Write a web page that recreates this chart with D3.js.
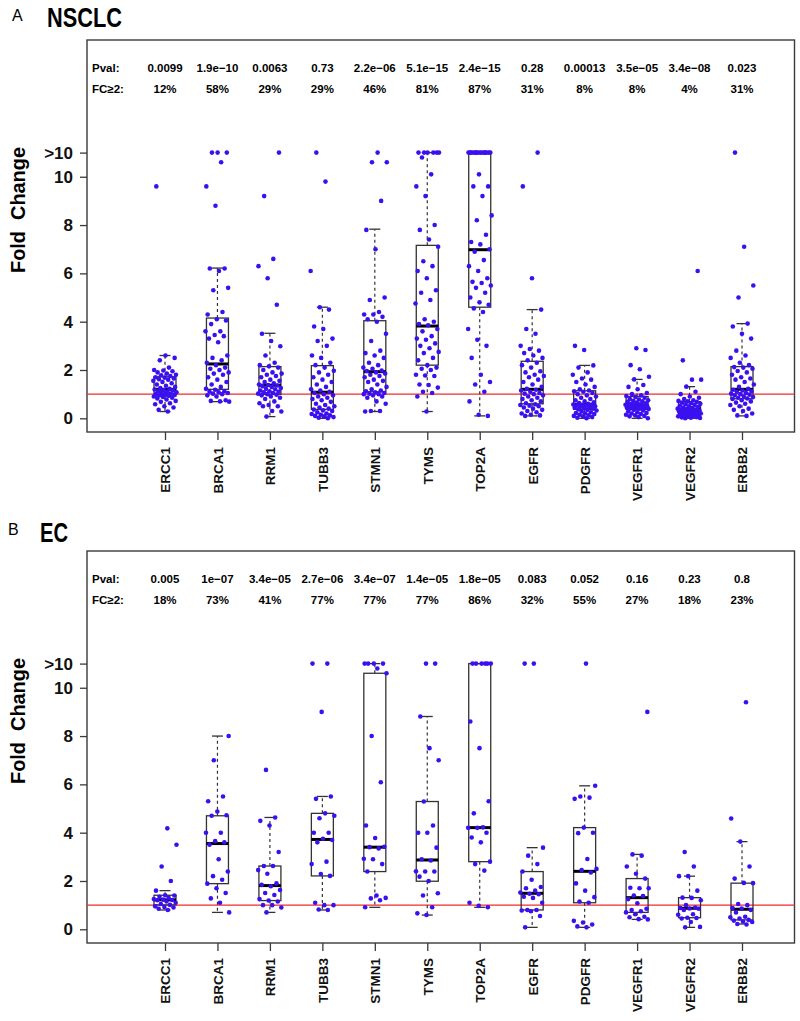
<!DOCTYPE html>
<html lang="en">
<head>
<meta charset="utf-8">
<title>Fold change by gene: NSCLC and EC</title>
<script src="https://d3js.org/d3.v7.min.js"></script>
<style>
  body { margin: 0; background: #fff; }
  text { font-family: "Liberation Sans", Arial, sans-serif; }
  .tick line { stroke: #3a3a3a; stroke-width: 1.3px; }
</style>
</head>
<body>
<svg width="800" height="1021"></svg>
<script>
// genes on the x axis (same order in both panels)
var genes = ["ERCC1", "BRCA1", "RRM1", "TUBB3", "STMN1", "TYMS", "TOP2A", "EGFR", "PDGFR", "VEGFR1", "VEGFR2", "ERBB2"];

// y ticks: 11 stands for the ">10" row
var yTicks = [0, 2, 4, 6, 8, 10, 11];
var yTickLabels = ["0", "2", "4", "6", "8", "10", ">10"];

// --- NSCLC ---
var nsclcPval = ["0.0099", "1.9e\u221210", "0.0063", "0.73", "2.2e\u221206", "5.1e\u221215", "2.4e\u221215", "0.28", "0.00013", "3.5e\u221205", "3.4e\u221208", "0.023"];
var nsclcFC = ["12%", "58%", "29%", "29%", "46%", "81%", "87%", "31%", "8%", "8%", "4%", "31%"];
// [lower whisker, Q1, median, Q3, upper whisker]
var nsclcBox = [
  [0.28, 0.92, 1.2, 1.72, 2.6],
  [0.69, 1.2, 2.25, 4.15, 6.22],
  [0.07, 0.99, 1.37, 2.14, 3.52],
  [0.0, 0.37, 1.08, 2.18, 4.6],
  [0.28, 1.1, 1.93, 4.04, 7.83],
  [0.28, 2.2, 3.82, 7.16, 11],
  [0.1, 4.6, 6.98, 11, 11],
  [0.1, 0.6, 1.2, 2.36, 4.5],
  [0.0, 0.37, 0.58, 1.14, 2.19],
  [0.0, 0.37, 0.55, 0.9, 1.61],
  [0.0, 0.16, 0.37, 0.69, 1.31],
  [0.1, 0.81, 1.2, 2.14, 3.92]
];
var nsclcValues = [
  // ERCC1
  [0.28,0.35,0.45,0.5,0.58,0.62,0.68,0.72,0.78,0.82,0.85,0.88,0.9,0.93,0.95,0.97,1.0,1.0,1.02,1.05,1.08,1.1,1.12,1.15,1.17,1.19,1.22,1.25,1.3,1.35,1.4,1.45,1.5,1.55,1.6,1.62,1.65,1.68,1.7,1.75,1.78,1.8,1.85,1.9,1.95,1.98,2.0,2.1,2.4,2.5,2.6,9.6],
  // BRCA1
  [0.69,0.7,0.72,0.75,0.9,0.95,1.0,1.02,1.05,1.08,1.1,1.12,1.18,1.22,1.3,1.4,1.5,1.6,1.7,1.8,1.85,1.9,2.0,2.05,2.1,2.2,2.3,2.4,2.5,2.6,3.15,3.3,3.4,3.45,3.6,3.6,3.9,4.05,4.1,4.3,4.4,5.3,5.4,6.1,6.2,6.2,8.8,9.6,10.6,11,11,11],
  // RRM1
  [0.07,0.28,0.3,0.5,0.5,0.55,0.62,0.7,0.8,0.85,0.9,0.95,0.98,1.0,1.02,1.05,1.08,1.1,1.12,1.15,1.2,1.22,1.25,1.3,1.33,1.36,1.38,1.4,1.45,1.5,1.55,1.6,1.7,1.75,1.8,1.85,1.9,2.0,2.1,2.15,2.2,2.3,2.6,2.98,3.2,3.5,4.7,5.8,6.3,6.6,9.2,11],
  // TUBB3
  [0.0,0.02,0.05,0.08,0.1,0.12,0.15,0.18,0.2,0.25,0.3,0.33,0.36,0.4,0.45,0.5,0.55,0.6,0.68,0.75,0.8,0.85,0.9,0.95,1.0,1.05,1.1,1.15,1.2,1.3,1.4,1.5,1.6,1.7,1.8,1.9,1.97,2.1,2.2,2.3,2.5,2.6,3.0,3.2,3.3,3.7,3.8,4.5,4.6,6.1,9.8,11],
  // STMN1
  [0.28,0.3,0.3,0.6,0.7,0.85,0.9,0.95,1.0,1.0,1.02,1.05,1.08,1.12,1.15,1.2,1.3,1.4,1.5,1.55,1.6,1.7,1.75,1.8,1.85,1.9,1.96,1.98,2.05,2.1,2.2,2.3,2.5,2.6,2.7,2.8,3.2,3.5,4.0,4.1,4.2,4.3,4.3,4.4,4.9,5.0,7.0,7.8,9.0,10.6,10.6,11],
  // TYMS
  [0.28,0.9,1.05,1.1,1.27,1.38,1.4,1.75,1.77,1.8,2.0,2.05,2.1,2.2,2.4,2.5,2.7,2.75,2.9,3.0,3.1,3.25,3.3,3.4,3.6,3.7,3.85,3.9,4.0,4.1,4.75,4.9,5.2,5.3,5.8,6.1,6.3,6.5,7.1,7.4,7.8,8.0,9.2,9.6,10.1,10.8,11,11,11,11,11,11],
  // TOP2A
  [0.1,0.15,0.7,1.1,1.4,1.5,1.8,2.5,3.0,3.25,3.7,4.4,4.55,4.7,4.8,5.0,5.2,5.4,5.5,5.6,5.65,5.8,6.1,6.3,6.55,6.9,7.0,7.2,7.3,7.6,8.2,8.4,9.2,9.6,9.6,10.1,11,11,11,11,11,11,11,11,11,11,11,11,11,11,11,11],
  // EGFR
  [0.1,0.12,0.15,0.2,0.25,0.3,0.35,0.4,0.45,0.5,0.52,0.55,0.58,0.62,0.7,0.75,0.8,0.85,0.9,0.95,1.0,1.02,1.05,1.1,1.15,1.18,1.22,1.3,1.4,1.5,1.6,1.7,1.75,1.8,1.9,1.95,2.1,2.2,2.3,2.4,2.5,2.6,2.7,2.8,2.87,3.0,3.5,3.7,4.5,5.8,9.6,11],
  // PDGFR
  [0.0,0.02,0.05,0.08,0.1,0.12,0.15,0.18,0.2,0.22,0.25,0.28,0.32,0.35,0.37,0.4,0.42,0.44,0.46,0.48,0.5,0.52,0.53,0.55,0.56,0.57,0.6,0.63,0.66,0.7,0.75,0.8,0.85,0.9,0.95,1.0,1.05,1.1,1.12,1.15,1.2,1.3,1.4,1.5,1.6,1.65,1.8,1.9,2.1,2.19,2.83,3.0],
  // VEGFR1
  [0.0,0.05,0.08,0.1,0.12,0.15,0.18,0.2,0.22,0.25,0.28,0.32,0.35,0.38,0.4,0.41,0.42,0.44,0.45,0.46,0.48,0.5,0.51,0.52,0.53,0.54,0.56,0.58,0.6,0.62,0.65,0.68,0.7,0.72,0.75,0.78,0.8,0.85,0.88,0.92,0.95,1.0,1.05,1.2,1.3,1.38,1.61,1.72,2.03,2.2,2.83,2.9],
  // VEGFR2
  [0.0,0.01,0.02,0.04,0.05,0.06,0.08,0.1,0.11,0.12,0.14,0.15,0.17,0.19,0.2,0.22,0.24,0.25,0.27,0.28,0.3,0.31,0.32,0.34,0.35,0.36,0.38,0.4,0.42,0.45,0.48,0.5,0.52,0.55,0.58,0.6,0.62,0.65,0.68,0.7,0.72,0.75,0.8,0.85,0.9,1.0,1.1,1.31,1.6,1.6,2.4,6.1],
  // ERBB2
  [0.1,0.12,0.2,0.3,0.35,0.4,0.5,0.55,0.6,0.65,0.7,0.75,0.8,0.82,0.85,0.88,0.9,0.95,0.98,1.0,1.02,1.05,1.1,1.12,1.15,1.18,1.22,1.3,1.4,1.5,1.6,1.65,1.7,1.8,1.9,1.96,2.05,2.1,2.12,2.2,2.3,2.5,2.6,2.8,3.3,3.5,3.8,3.92,5.0,5.5,7.1,11]
];

// --- EC ---
var ecPval = ["0.005", "1e\u221207", "3.4e\u221205", "2.7e\u221206", "3.4e\u221207", "1.4e\u221205", "1.8e\u221205", "0.083", "0.052", "0.16", "0.23", "0.8"];
var ecFC = ["18%", "73%", "41%", "77%", "77%", "77%", "86%", "32%", "55%", "27%", "18%", "23%"];
var ecBox = [
  [0.8, 1.01, 1.22, 1.41, 1.6],
  [0.7, 1.89, 3.55, 4.7, 8.0],
  [0.7, 1.19, 1.81, 2.62, 4.63],
  [0.8, 2.21, 3.72, 4.8, 5.5],
  [0.91, 2.39, 3.4, 10.6, 11],
  [0.59, 1.99, 2.87, 5.29, 8.81],
  [0.91, 2.8, 4.21, 11, 11],
  [0.08, 0.8, 1.49, 2.39, 3.38],
  [0.08, 1.1, 2.4, 4.21, 5.94],
  [0.41, 0.7, 1.31, 2.1, 3.1],
  [0.08, 0.48, 0.87, 1.31, 2.2],
  [0.22, 0.39, 0.83, 1.91, 3.63]
];
var ecValues = [
  [0.8,0.85,0.9,0.92,0.95,1.01,1.05,1.1,1.15,1.2,1.21,1.23,1.25,1.3,1.35,1.4,1.41,1.6,2.0,2.6,3.5,4.18],
  [0.7,1.1,1.28,1.5,1.7,1.89,2.05,2.2,2.39,2.9,3.5,3.6,3.65,4.0,4.0,4.7,4.72,4.88,5.3,5.5,7.0,8.0],
  [0.7,0.9,1.0,1.0,1.15,1.19,1.25,1.42,1.5,1.63,1.78,1.84,1.9,2.3,2.45,2.62,2.62,3.2,4.3,4.49,4.63,6.6],
  [0.8,0.82,1.0,1.0,1.1,2.21,2.29,2.7,2.8,3.6,3.7,3.75,4.0,4.0,4.6,4.7,4.8,5.4,5.5,9.0,11,11],
  [0.91,1.2,1.28,1.3,1.4,2.39,2.7,2.9,2.92,3.35,3.4,3.42,3.78,4.3,6.09,8.0,10.6,10.8,11,11,11,11],
  [0.59,0.66,0.91,1.4,1.49,2.0,2.18,2.39,2.39,2.4,2.85,2.9,3.38,4.0,4.0,4.3,5.29,7.0,7.5,8.81,11,11],
  [0.91,0.97,1.1,2.43,2.7,2.8,3.6,3.8,4.0,4.2,4.2,4.22,4.8,5.3,7.5,8.6,11,11,11,11,11,11],
  [0.08,0.55,0.75,0.78,0.8,0.8,1.1,1.3,1.35,1.45,1.47,1.52,1.6,1.7,1.75,2.05,2.39,2.7,3.05,3.38,11,11],
  [0.08,0.12,0.2,0.28,0.35,1.1,1.15,1.33,1.6,1.9,2.35,2.45,2.5,2.91,3.98,4.0,4.21,5.4,5.45,5.5,5.94,11],
  [0.41,0.42,0.5,0.52,0.62,0.7,0.75,0.8,0.85,1.08,1.25,1.38,1.4,1.7,1.7,1.72,2.1,2.3,2.6,3.05,3.1,9.0],
  [0.08,0.1,0.3,0.45,0.47,0.48,0.6,0.62,0.8,0.85,0.86,0.88,0.9,1.0,1.2,1.3,1.31,1.6,2.2,2.2,2.6,3.2],
  [0.2,0.22,0.3,0.32,0.36,0.39,0.45,0.5,0.52,0.7,0.8,0.86,0.88,1.0,1.05,1.91,1.92,2.1,2.6,3.63,4.59,9.4]
];

var svg = d3.select("svg");

// plot frame of one panel (panel B is the same, shifted down)
var frame = { left: 87, right: 794.5, top: 40, bottom: 432 };

var x = d3.scalePoint().domain(genes).range([165, 742]);
var y = d3.scaleLinear().domain([0, 11]).range([418.3, 152.6]);

var dotColor = "#3b10f0";
var boxHalf = 11, capHalf = 5.5, jitterHalf = 12;

function drawPanel(offset, pvals, fcs, boxes, values) {
  var g = svg.append("g").attr("transform", "translate(0," + offset + ")");

  // frame
  g.append("rect")
    .attr("x", frame.left).attr("y", frame.top)
    .attr("width", frame.right - frame.left)
    .attr("height", frame.bottom - frame.top)
    .attr("fill", "none")
    .attr("stroke", "#3a3a3a")
    .attr("stroke-width", 1.4);

  // Pval / FC rows
  var rows = [{ label: "Pval:", vals: pvals, yy: 72 }, { label: "FC\u22652:", vals: fcs, yy: 93 }];
  rows.forEach(function(r) {
    g.append("text")
      .attr("x", 92).attr("y", r.yy)
      .attr("font-size", "11.5px").attr("font-weight", "bold")
      .text(r.label);
    g.selectAll(null)
      .data(r.vals)
      .enter().append("text")
      .attr("x", function(d, i) { return x(genes[i]); })
      .attr("y", r.yy)
      .attr("text-anchor", "middle")
      .attr("font-size", "11.5px").attr("font-weight", "bold")
      .text(function(d) { return d; });
  });

  // y axis
  var yAxis = g.append("g")
    .attr("transform", "translate(" + frame.left + ",0)")
    .call(d3.axisLeft(y)
      .tickValues(yTicks)
      .tickFormat(function(d, i) { return yTickLabels[i]; })
      .tickSize(7)
      .tickPadding(7));
  yAxis.select(".domain").remove();
  yAxis.selectAll("text")
    .attr("font-size", "17px").attr("font-weight", "bold")
    .attr("fill", "#111")
    .style("font-family", "'Liberation Sans', Arial, sans-serif");

  // x axis
  var xAxis = g.append("g")
    .attr("transform", "translate(0," + frame.bottom + ")")
    .call(d3.axisBottom(x).tickSize(8));
  xAxis.select(".domain").remove();
  xAxis.selectAll("text")
    .attr("transform", "rotate(-90)")
    .attr("x", -15).attr("y", 0).attr("dy", "0.36em")
    .style("text-anchor", "end")
    .attr("font-size", "13.5px").attr("font-weight", "bold")
    .attr("fill", "#111")
    .style("font-family", "'Liberation Sans', Arial, sans-serif");

  // y title
  g.append("text")
    .attr("transform", "translate(25,210) rotate(-90)")
    .attr("text-anchor", "middle")
    .attr("font-size", "21px").attr("font-weight", "bold")
    .attr("textLength", 126).attr("lengthAdjust", "spacingAndGlyphs")
    .style("white-space", "pre")
    .text("Fold\u00a0\u00a0Change");

  // reference line at fold change 1
  g.append("line")
    .attr("x1", frame.left).attr("x2", frame.right)
    .attr("y1", y(1)).attr("y2", y(1))
    .attr("stroke", "#f02a2a").attr("stroke-width", 1.1);

  // boxes
  var box = g.selectAll(".box")
    .data(boxes)
    .enter().append("g")
    .attr("class", "box")
    .attr("transform", function(d, i) { return "translate(" + x(genes[i]) + ",0)"; });

  box.append("line")
    .attr("x1", 0).attr("x2", 0)
    .attr("y1", function(d) { return y(d[3]); })
    .attr("y2", function(d) { return y(d[4]); })
    .attr("stroke", "#333").attr("stroke-width", 1.2).attr("stroke-dasharray", "3,3");
  box.append("line")
    .attr("x1", 0).attr("x2", 0)
    .attr("y1", function(d) { return y(d[1]); })
    .attr("y2", function(d) { return y(d[0]); })
    .attr("stroke", "#333").attr("stroke-width", 1.2).attr("stroke-dasharray", "3,3");
  [0, 4].forEach(function(k) {
    box.append("line")
      .attr("x1", -capHalf).attr("x2", capHalf)
      .attr("y1", function(d) { return y(d[k]); })
      .attr("y2", function(d) { return y(d[k]); })
      .attr("stroke", "#333").attr("stroke-width", 1.3);
  });
  box.append("rect")
    .attr("x", -boxHalf).attr("width", boxHalf * 2)
    .attr("y", function(d) { return y(d[3]); })
    .attr("height", function(d) { return y(d[1]) - y(d[3]); })
    .attr("fill", "none")
    .attr("stroke", "#333").attr("stroke-width", 1.3);
  box.append("line")
    .attr("x1", -boxHalf).attr("x2", boxHalf)
    .attr("y1", function(d) { return y(d[2]); })
    .attr("y2", function(d) { return y(d[2]); })
    .attr("stroke", "#000").attr("stroke-width", 3);

  // jittered points (deterministic golden-ratio spread)
  var pts = [];
  values.forEach(function(arr, i) {
    arr.forEach(function(v, j) {
      var f = ((j + 1) * 0.6180339887 + i * 0.37) % 1;
      pts.push({ gene: genes[i], v: v, dx: (f - 0.5) * 2 * jitterHalf });
    });
  });
  g.selectAll(".pt")
    .data(pts)
    .enter().append("circle")
    .attr("class", "pt")
    .attr("cx", function(d) { return x(d.gene) + d.dx; })
    .attr("cy", function(d) { return y(d.v); })
    .attr("r", 2.3)
    .attr("fill", dotColor);
}

drawPanel(0, nsclcPval, nsclcFC, nsclcBox, nsclcValues);
drawPanel(511, ecPval, ecFC, ecBox, ecValues);

// panel letters and titles
svg.append("text").attr("x", 12).attr("y", 21).attr("font-size", "16px").text("A");
svg.append("text").attr("x", 47).attr("y", 27)
  .attr("font-size", "28px").attr("font-weight", "bold")
  .attr("textLength", 75).attr("lengthAdjust", "spacingAndGlyphs")
  .text("NSCLC");
svg.append("text").attr("x", 8).attr("y", 535).attr("font-size", "16px").text("B");
svg.append("text").attr("x", 40).attr("y", 542)
  .attr("font-size", "28px").attr("font-weight", "bold")
  .attr("textLength", 28).attr("lengthAdjust", "spacingAndGlyphs")
  .text("EC");
</script>
</body>
</html>
